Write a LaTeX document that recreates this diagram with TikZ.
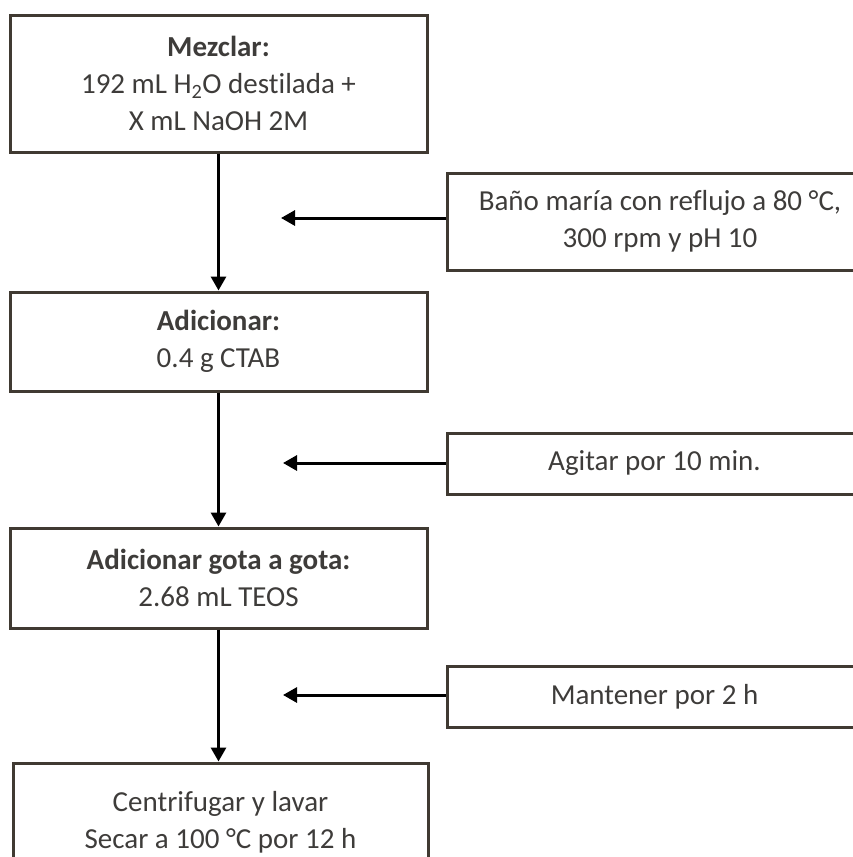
\documentclass[tikz,border=0pt]{standalone}
\usepackage{fontspec}
\setmainfont{Carlito}[Ligatures=NoCommon]
\usetikzlibrary{arrows.meta}
\definecolor{boxline}{RGB}{64,58,50}
\definecolor{txt}{RGB}{62,60,58}
\begin{document}
\begin{tikzpicture}[x=1pt,y=-1pt,
  basebox/.style={draw=boxline, line width=3pt, text=txt, align=center,
    inner sep=0pt, font=\fontsize{29}{37}\selectfont},
  stepbox/.style={basebox, minimum width=417pt},
  sidebox/.style={basebox},
  flow/.style={draw=black, line width=3pt, -{Triangle[length=14pt,width=15pt]}}]
  \useasboundingbox (0,0) rectangle (853,857);
  \clip (0,0) rectangle (853,857);

  % main sequence of steps
  \node[stepbox, minimum height=137pt] (b1) at (218.5,83.5)
    {\textbf{Mezclar:}\\192 mL H\textsubscript{2}O destilada +\\X mL NaOH 2M};
  \node[stepbox, minimum height=99pt] (b2) at (218.5,341.5)
    {\textbf{Adicionar:}\\0.4 g CTAB};
  \node[stepbox, minimum height=100pt] (b3) at (218.5,578)
    {\textbf{Adicionar gota a gota:}\\2.68 mL TEOS};
  \node[stepbox, minimum width=415pt, minimum height=118pt] (b4) at (220.5,822)
    {Centrifugar y lavar\\Secar a 100 °C por 12 h};

  % side conditions
  \node[sidebox, minimum width=426pt, minimum height=97pt] (s1) at (660,221.5)
    {Baño maría con reflujo a 80 °C,\\300 rpm y pH 10};
  \node[sidebox, minimum width=415pt, minimum height=61pt] (s2) at (654.5,463.5)
    {Agitar por 10 min.};
  \node[sidebox, minimum width=415pt, minimum height=61pt] (s3) at (654.5,696.5)
    {Mantener por 2 h};

  % arrow tips of the side conditions
  \coordinate (t1) at (281,218);
  \coordinate (t2) at (283,463);
  \coordinate (t3) at (283,695);

  \draw[flow] (b1.south) -- (b2.north);
  \draw[flow] (b2.south) -- (b3.north);
  \draw[flow] (b3.south) -- (b3.south |- b4.north);

  \draw[flow] (s1.west |- t1) -- (t1);
  \draw[flow] (s2.west |- t2) -- (t2);
  \draw[flow] (s3.west |- t3) -- (t3);
\end{tikzpicture}
\end{document}
